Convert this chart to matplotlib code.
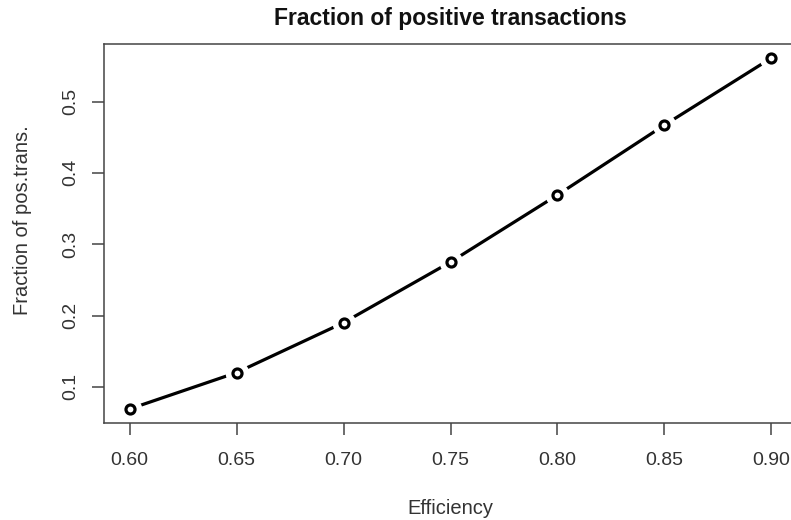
import matplotlib.pyplot as plt

# data
efficiency = [0.60, 0.65, 0.70, 0.75, 0.80, 0.85, 0.90]
frac_pos = [0.069, 0.120, 0.190, 0.275, 0.369, 0.467, 0.561]
xticks = [0.60, 0.65, 0.70, 0.75, 0.80, 0.85, 0.90]
yticks = [0.1, 0.2, 0.3, 0.4, 0.5]

plt.rcParams['font.family'] = ['Liberation Sans', 'DejaVu Sans']

fig = plt.figure(figsize=(7.91, 5.2), dpi=100)
# R-like plot region, right edge runs off the picture as in the reference
ax = fig.add_axes([104 / 791, 1 - 423 / 520, (797 - 104) / 791, (423 - 44) / 520])

# R type="b": line with gaps around the points
ax.plot(efficiency, frac_pos, color='black', lw=2.3, solid_capstyle='butt', zorder=2)
ax.plot(efficiency, frac_pos, ls='none', marker='o', ms=17, mfc='white', mec='none', zorder=3)
ax.plot(efficiency, frac_pos, ls='none', marker='o', ms=6.5, mfc='white', mec='black', mew=2.3, zorder=4)

dx = (max(efficiency) - min(efficiency)) * 0.04
dy = (max(frac_pos) - min(frac_pos)) * 0.04
ax.set_xlim(min(efficiency) - dx, max(efficiency) + dx)
ax.set_ylim(min(frac_pos) - dy, max(frac_pos) + dy)

ax.set_xticks(xticks)
ax.set_xticklabels(['%.2f' % v for v in xticks])
ax.set_yticks(yticks)
ax.set_yticklabels(['%.1f' % v for v in yticks], rotation=90, va='center')

for s in ax.spines.values():
    s.set_color('#444444')
    s.set_linewidth(1.1)
ax.tick_params(axis='both', length=8.6, width=1.1, color='#444444',
               labelsize=14, labelcolor='#333333')
ax.tick_params(axis='x', pad=12.5)
ax.tick_params(axis='y', pad=9)

ax.set_title('Fraction of positive transactions', fontsize=16.5, fontweight='bold',
             color='#111111', pad=14)
ax.set_xlabel('Efficiency', fontsize=14.5, color='#333333')
ax.set_ylabel('Fraction of pos.trans.', fontsize=14.5, color='#333333')
ax.xaxis.set_label_coords(0.5, -(508 - 423) / 379, transform=ax.transAxes)
ax.yaxis.set_label_coords(-(104 - 23) / 693, (423 - 220.5) / 379, transform=ax.transAxes)
ax.xaxis.label.set_va('center')
ax.yaxis.label.set_va('center')

fig.savefig('out.png', dpi=100)
